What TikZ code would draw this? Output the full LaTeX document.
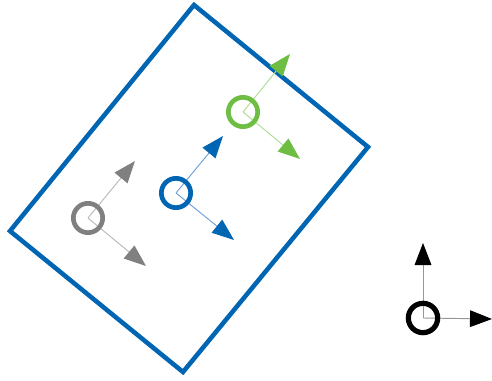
\documentclass[tikz,border=0pt]{standalone}
\usetikzlibrary{arrows.meta}
\definecolor{pblue}{RGB}{0,102,179}
\definecolor{pbluel}{RGB}{110,160,215}
\definecolor{pgreen}{RGB}{110,190,68}
\definecolor{pgreenl}{RGB}{175,220,150}
\definecolor{pgray}{RGB}{128,128,128}
\definecolor{pgrayl}{RGB}{185,185,185}
\definecolor{pblackl}{RGB}{150,150,150}
\tikzset{
  ring/.style={circle, draw=#1, line width=3.5pt, minimum size=22pt, inner sep=0pt},
  axis/.style n args={2}{draw=#1, line width=0.7pt, -{Triangle[length=16.5pt,width=12.5pt,color=#2]}},
  frame/.style={draw=pblue, line width=3.4pt, line join=miter}
}
\begin{document}
\begin{tikzpicture}[x=0.75pt,y=-0.75pt]
\useasboundingbox (0,0) rectangle (492,381);
% frame
\coordinate (t) at (194,5);
\coordinate (r) at (368,147);
\coordinate (b) at (183,372);
\coordinate (l) at (10,231);
\draw[frame] (t) -- (r) -- (b) -- (l) -- cycle;
% centers and tips
\coordinate (gc) at (243,112);
\coordinate (gu) at (290,54);
\coordinate (gd) at (300,159);
\coordinate (bc) at (176,193);
\coordinate (bu) at (223,136);
\coordinate (bd) at (234,240);
\coordinate (yc) at (88,218);
\coordinate (yu) at (135,161);
\coordinate (yd) at (146,266);
\coordinate (kc) at (423,318);
\coordinate (ku) at (423,243);
\coordinate (kr) at (492,319);
\draw[axis={pgreenl}{pgreen}] (gc) -- (gu);
\draw[axis={pgreenl}{pgreen}] (gc) -- (gd);
\draw[axis={pbluel}{pblue}] (bc) -- (bu);
\draw[axis={pbluel}{pblue}] (bc) -- (bd);
\draw[axis={pgrayl}{pgray}] (yc) -- (yu);
\draw[axis={pgrayl}{pgray}] (yc) -- (yd);
\draw[axis={pblackl}{black}] (kc) -- (ku);
\draw[axis={pblackl}{black}] (kc) -- (kr);
\node[ring=pgreen] (g) at (gc) {};
\node[ring=pblue] (bl) at (bc) {};
\node[ring=pgray] (gy) at (yc) {};
\node[ring=black, line width=3.9pt] (k) at (kc) {};
\end{tikzpicture}
\end{document}
